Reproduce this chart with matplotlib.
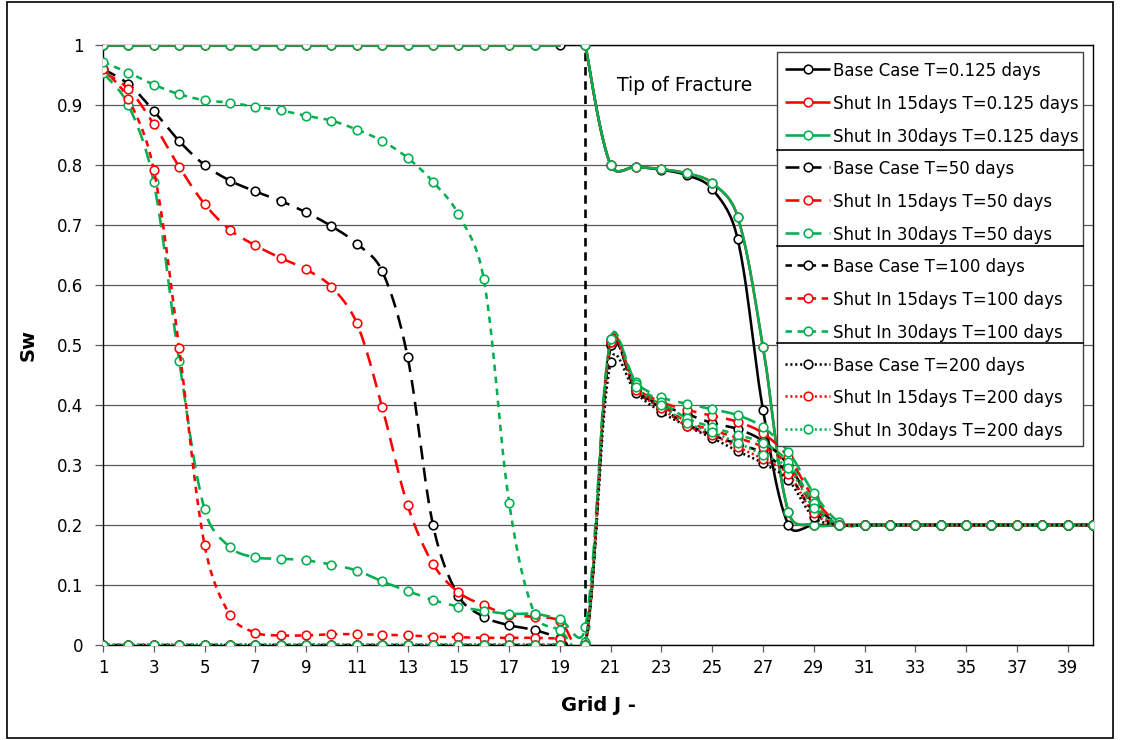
import numpy as np
import matplotlib
matplotlib.use("Agg")
import matplotlib.pyplot as plt
from matplotlib.lines import Line2D
from matplotlib.patches import Rectangle

plt.rcParams['font.family'] = ['DejaVu Sans']

# ---------------- data ----------------
grid_j = np.arange(1, 41)

base_0125 = [1, 1, 1, 1, 1, 1, 1, 1, 1, 1, 1, 1, 1, 1, 1, 1, 1, 1, 1, 1,
             0.80, 0.797, 0.792, 0.783, 0.76, 0.677, 0.392, 0.20, 0.20, 0.20,
             0.2, 0.2, 0.2, 0.2, 0.2, 0.2, 0.2, 0.2, 0.2, 0.2]
si15_0125 = [1, 1, 1, 1, 1, 1, 1, 1, 1, 1, 1, 1, 1, 1, 1, 1, 1, 1, 1, 1,
             0.80, 0.797, 0.793, 0.786, 0.77, 0.714, 0.497, 0.222, 0.20, 0.20,
             0.2, 0.2, 0.2, 0.2, 0.2, 0.2, 0.2, 0.2, 0.2, 0.2]
si30_0125 = [1, 1, 1, 1, 1, 1, 1, 1, 1, 1, 1, 1, 1, 1, 1, 1, 1, 1, 1, 1,
             0.80, 0.797, 0.793, 0.786, 0.77, 0.714, 0.497, 0.222, 0.20, 0.20,
             0.2, 0.2, 0.2, 0.2, 0.2, 0.2, 0.2, 0.2, 0.2, 0.2]

base_50 = [0.96, 0.935, 0.89, 0.84, 0.80, 0.774, 0.756, 0.74, 0.721, 0.698,
           0.669, 0.623, 0.48, 0.20, 0.082, 0.047, 0.033, 0.025, 0.012, 0.0,
           0.50, 0.425, 0.40, 0.385, 0.37, 0.36, 0.34, 0.30, 0.235, 0.202,
           0.2, 0.2, 0.2, 0.2, 0.2, 0.2, 0.2, 0.2, 0.2, 0.2]
si15_50 = [0.955, 0.927, 0.868, 0.797, 0.735, 0.692, 0.666, 0.645, 0.626, 0.597,
           0.536, 0.396, 0.233, 0.135, 0.088, 0.066, 0.05, 0.047, 0.04, 0.0,
           0.505, 0.43, 0.405, 0.392, 0.382, 0.372, 0.353, 0.313, 0.245, 0.203,
           0.2, 0.2, 0.2, 0.2, 0.2, 0.2, 0.2, 0.2, 0.2, 0.2]
si30_50 = [0.954, 0.90, 0.771, 0.474, 0.226, 0.163, 0.146, 0.144, 0.141, 0.134,
           0.124, 0.106, 0.09, 0.075, 0.064, 0.057, 0.052, 0.052, 0.043, 0.03,
           0.51, 0.438, 0.413, 0.402, 0.393, 0.383, 0.363, 0.322, 0.253, 0.205,
           0.2, 0.2, 0.2, 0.2, 0.2, 0.2, 0.2, 0.2, 0.2, 0.2]

base_100 = [0, 0, 0, 0, 0, 0, 0, 0, 0, 0, 0, 0, 0, 0, 0, 0, 0, 0, 0, 0,
            0.50, 0.425, 0.395, 0.368, 0.35, 0.335, 0.32, 0.285, 0.222, 0.20,
            0.2, 0.2, 0.2, 0.2, 0.2, 0.2, 0.2, 0.2, 0.2, 0.2]
si15_100 = [0.96, 0.91, 0.792, 0.495, 0.167, 0.05, 0.0205, 0.016, 0.016, 0.018,
            0.018, 0.017, 0.016, 0.014, 0.013, 0.012, 0.012, 0.012, 0.01, 0.0,
            0.505, 0.43, 0.40, 0.372, 0.358, 0.345, 0.33, 0.30, 0.23, 0.20,
            0.2, 0.2, 0.2, 0.2, 0.2, 0.2, 0.2, 0.2, 0.2, 0.2]
si30_100 = [0.972, 0.954, 0.934, 0.918, 0.908, 0.904, 0.897, 0.891, 0.882, 0.874,
            0.859, 0.84, 0.812, 0.772, 0.718, 0.61, 0.237, 0.052, 0.025, 0.005,
            0.51, 0.435, 0.405, 0.378, 0.363, 0.35, 0.337, 0.305, 0.237, 0.20,
            0.2, 0.2, 0.2, 0.2, 0.2, 0.2, 0.2, 0.2, 0.2, 0.2]

base_200 = [0, 0, 0, 0, 0, 0, 0, 0, 0, 0, 0, 0, 0, 0, 0, 0, 0, 0, 0, 0,
            0.472, 0.42, 0.388, 0.365, 0.345, 0.323, 0.303, 0.275, 0.213, 0.20,
            0.2, 0.2, 0.2, 0.2, 0.2, 0.2, 0.2, 0.2, 0.2, 0.2]
si15_200 = [0, 0, 0, 0, 0, 0, 0, 0, 0, 0, 0, 0, 0, 0, 0, 0, 0, 0, 0, 0,
            0.505, 0.425, 0.395, 0.365, 0.35, 0.33, 0.31, 0.285, 0.22, 0.20,
            0.2, 0.2, 0.2, 0.2, 0.2, 0.2, 0.2, 0.2, 0.2, 0.2]
si30_200 = [0, 0, 0, 0, 0, 0, 0, 0, 0, 0, 0, 0, 0, 0, 0, 0, 0, 0, 0, 0,
            0.51, 0.43, 0.40, 0.37, 0.355, 0.337, 0.317, 0.295, 0.228, 0.20,
            0.2, 0.2, 0.2, 0.2, 0.2, 0.2, 0.2, 0.2, 0.2, 0.2]

series_labels = [
    "Base Case T=0.125 days", "Shut In 15days T=0.125 days", "Shut In 30days T=0.125 days",
    "Base Case T=50 days", "Shut In 15days T=50 days", "Shut In 30days T=50 days",
    "Base Case T=100 days", "Shut In 15days T=100 days", "Shut In 30days T=100 days",
    "Base Case T=200 days", "Shut In 15days T=200 days", "Shut In 30days T=200 days",
]
series_values = [base_0125, si15_0125, si30_0125,
                 base_50, si15_50, si30_50,
                 base_100, si15_100, si30_100,
                 base_200, si15_200, si30_200]

tip_x = [20, 20]
tip_y = [0, 1]
tip_label = "Tip of Fracture"

x_tick_values = list(range(1, 40, 2))
y_tick_values = [0, 0.1, 0.2, 0.3, 0.4, 0.5, 0.6, 0.7, 0.8, 0.9, 1]
y_tick_labels = ["0", "0.1", "0.2", "0.3", "0.4", "0.5", "0.6", "0.7", "0.8", "0.9", "1"]

# ---------------- styles ----------------
BLACK, RED, GREEN = "#000000", "#FF0000", "#00B050"
colors = [BLACK, RED, GREEN] * 4
LW = 1.85
dash_styles = ([(0, ())] * 3 + [(0, (5.4, 3.2))] * 3
               + [(0, (2.5, 2.2))] * 3 + [(0, (0.8, 1.1))] * 3)
# the 0.125-day profiles are drawn as two pieces on each side of the fracture tip
split_at_tip = [True] * 3 + [False] * 9
hidden_marker = [set(), {18}, {18}] + [set()] * 9

W, H = 1123, 740
fig = plt.figure(figsize=(W / 100, H / 100), dpi=100)


def fx(px):
    return px / W


def fy(py):
    return 1 - py / H


AX_L, AX_R, AX_T, AX_B = 103, 1093, 45, 645
ax = fig.add_axes([fx(AX_L), fy(AX_B), fx(AX_R) - fx(AX_L), fy(AX_T) - fy(AX_B)])
XMIN, XMAX, YMIN, YMAX = 1, 40, 0, 1
SX = (AX_R - AX_L) / (XMAX - XMIN)
SY = (AX_B - AX_T) / (YMAX - YMIN)


def smooth_curve(xs, ys, n=24, mix=0.5):
    """Bezier smoothing through every point; tangents blend uniform Catmull-Rom
    with an on-screen segment-length weighting."""
    P = np.column_stack([np.asarray(xs, float) * SX, np.asarray(ys, float) * SY])
    m = len(P)
    if m < 2:
        return np.asarray(xs, float), np.asarray(ys, float)
    out = []
    t = np.linspace(0, 1, n)
    seg = np.linalg.norm(np.diff(P, axis=0), axis=1)

    def weight(a, b):
        w_len = a / (a + b) / 3.0 if a + b > 0 else 0.0
        return mix * (1.0 / 6.0) + (1 - mix) * w_len

    for i in range(m - 1):
        p1, p2 = P[i], P[i + 1]
        L = seg[i]
        if i > 0:
            c1 = p1 + (p2 - P[i - 1]) * weight(L, seg[i - 1])
        else:
            c1 = p1 + (p2 - p1) / 6.0
        if i + 2 < m:
            c2 = p2 - (P[i + 2] - p1) * weight(L, seg[i + 1])
        else:
            c2 = p2 - (p2 - p1) / 6.0
        b = ((1 - t) ** 3)[:, None] * p1 + (3 * (1 - t) ** 2 * t)[:, None] * c1 \
            + (3 * (1 - t) * t ** 2)[:, None] * c2 + (t ** 3)[:, None] * p2
        out.append(b if i == 0 else b[1:])
    out = np.vstack(out)
    return out[:, 0] / SX, out[:, 1] / SY


# gridlines
for yv in y_tick_values:
    ax.axhline(yv, color="#5a5a5a", lw=0.9, zorder=1)

# fracture tip line
ax.plot(tip_x, tip_y, color=BLACK, lw=1.9, linestyle=(0, (3.2, 2.2)), zorder=2)

MS = 6.2
MEW = 1.15
for k, (vals, col, ls) in enumerate(zip(series_values, colors, dash_styles)):
    v = np.asarray(vals, float)
    pieces = [(grid_j[:19], v[:19]), (grid_j[19:], v[19:])] if split_at_tip[k] else [(grid_j, v)]
    for xs, ys in pieces:
        sx, sy = smooth_curve(xs, ys)
        ax.plot(sx, sy, color=col, lw=LW, linestyle=ls, solid_capstyle="butt",
                dash_capstyle="butt", zorder=3 + k * 0.1)
    keep = [i for i in range(len(v)) if i not in hidden_marker[k]]
    ax.plot(grid_j[keep], v[keep], linestyle="none", marker="o", ms=MS, mew=MEW,
            mfc="white", mec=col, zorder=3 + k * 0.1 + 0.05)

ax.set_xlim(XMIN, XMAX)
ax.set_ylim(YMIN, YMAX)
ax.set_xticks(x_tick_values)
ax.set_xticklabels([str(v) for v in x_tick_values], fontsize=12)
ax.set_yticks(y_tick_values)
ax.set_yticklabels(y_tick_labels, fontsize=12)
ax.tick_params(axis="x", direction="out", length=5, width=0.9, color="#5a5a5a", pad=5)
ax.tick_params(axis="y", direction="out", length=6, width=0.9, color="#5a5a5a", pad=8)
for s in ax.spines.values():
    s.set_color(BLACK)
    s.set_linewidth(1.0)
ax.set_xlabel("Grid J -", fontsize=14, fontweight="bold", labelpad=14)
ax.set_ylabel("Sw", fontsize=14, fontweight="bold", labelpad=14)

ax.text(21.25, 0.933, tip_label, fontsize=13.5, ha="left", va="center", zorder=6)

# legend panel
LEG_L, LEG_R, LEG_T, LEG_B = 777, 1083, 52, 446
fig.patches.append(Rectangle((fx(LEG_L), fy(LEG_B)), fx(LEG_R) - fx(LEG_L), fy(LEG_T) - fy(LEG_B),
                             transform=fig.transFigure, facecolor="white", edgecolor="#404040",
                             lw=1.0, zorder=10))
row_y0, row_pitch = 69.3, 32.7
for k, (lab, col, ls) in enumerate(zip(series_labels, colors, dash_styles)):
    yy = row_y0 + k * row_pitch
    fig.add_artist(Line2D([fx(785), fx(830)], [fy(yy), fy(yy)], color=col, lw=LW, linestyle=ls,
                          dash_capstyle="butt", transform=fig.transFigure, zorder=11))
    fig.add_artist(Line2D([fx(807.5)], [fy(yy)], linestyle="none", marker="o", ms=MS, mew=MEW,
                          mfc="white", mec=col, transform=fig.transFigure, zorder=12))
    fig.text(fx(833), fy(yy), lab, fontsize=12, ha="left", va="center_baseline", zorder=12)
for sep in (149.5, 245.5, 342.5):
    fig.add_artist(Line2D([fx(LEG_L), fx(LEG_R)], [fy(sep), fy(sep)], color=BLACK, lw=1.2,
                          transform=fig.transFigure, zorder=11))

# chart border
fig.patches.append(Rectangle((fx(7), fy(738)), fx(1113) - fx(7), fy(2) - fy(738),
                             transform=fig.transFigure, facecolor="none", edgecolor=BLACK,
                             lw=1.2, zorder=0))

fig.savefig("out.png", dpi=100)
